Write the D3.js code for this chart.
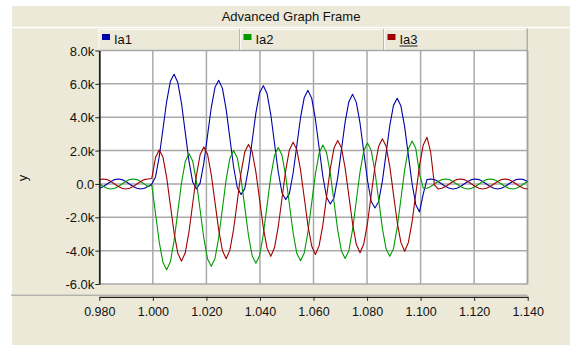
<!DOCTYPE html>
<html>
<head>
<meta charset="utf-8">
<script src="https://cdn.jsdelivr.net/npm/d3@7"></script>
<style>
  html, body { margin: 0; padding: 0; background: #ffffff; }
  svg { display: block; font-family: "Liberation Sans", Arial, sans-serif; }
</style>
</head>
<body>
<svg id="chart" width="570" height="345"></svg>
<script>
// ---- data (currents in kA, sampled 12 points per 60 Hz cycle) ----
const sampleStart = 0.9996 - 15 / 720;   // first sample time (s)
const sampleStep = 1 / 720;              // sample interval (s)

const seriesNames = ["Ia1", "Ia2", "Ia3"];
const seriesColors = ["#0000a8", "#009a00", "#a00000"];

const ia1 = [
  -0.30, -0.26, -0.15, 0.00, 0.15, 0.26, 0.30, 0.26, 0.15, 0.00, -0.15, -0.26, -0.30, -0.26, -0.15,
  0.00, 0.42, 1.63, 3.28, 4.94, 6.15, 6.57, 6.08, 4.82, 3.09, 1.37, 0.11,
  -0.30, 0.05, 1.26, 2.92, 4.58, 5.79, 6.21, 5.73, 4.47, 2.75, 1.03, -0.23,
  -0.64, -0.28, 0.93, 2.59, 4.26, 5.47, 5.89, 5.42, 4.16, 2.44, 0.73, -0.53,
  -0.94, -0.58, 0.64, 2.30, 3.97, 5.18, 5.61, 5.14, 3.88, 2.17, 0.46, -0.80,
  -1.20, -0.84, 0.38, 2.05, 3.72, 4.93, 5.37, 4.89, 3.64, 1.93, 0.22, -1.04,
  -1.44, -1.07, 0.15, 1.82, 3.49, 4.71, 5.14, 4.67, 3.42, 1.71, 0.01, -1.25,
  -1.68,
  -0.60, 0.26, 0.30, 0.26, 0.15, 0.00, -0.15, -0.26, -0.30, -0.26, -0.15, 0.00,
  0.15, 0.26, 0.30, 0.26, 0.15, 0.00, -0.15, -0.26, -0.30, -0.26, -0.15, 0.00,
  0.15, 0.26, 0.30, 0.26, 0.15, 0.00
];

const ia2 = [
  0.15, 0.00, -0.15, -0.26, -0.30, -0.26, -0.15, 0.00, 0.15, 0.26, 0.30, 0.26, 0.15, 0.00, -0.15,
  -0.08, -1.77, -3.47, -4.71, -5.15, -4.67, -3.40, -1.66, 0.07, 1.34, 1.82, 1.38,
  0.14, -1.56, -3.26, -4.50, -4.94, -4.47, -3.20, -1.47, 0.26, 1.53, 2.01, 1.56,
  0.32, -1.38, -3.08, -4.32, -4.76, -4.29, -3.02, -1.29, 0.44, 1.70, 2.18, 1.73,
  0.49, -1.22, -2.92, -4.16, -4.61, -4.14, -2.87, -1.14, 0.59, 1.85, 2.33, 1.88,
  0.63, -1.07, -2.77, -4.02, -4.47, -4.00, -2.73, -1.01, 0.72, 1.99, 2.46, 2.01,
  0.76, -0.94, -2.65, -3.89, -4.34, -3.88, -2.61, -0.89, 0.84, 2.10, 2.57, 2.12,
  0.60,
  -0.25, -0.26, -0.15, 0.00, 0.15, 0.26, 0.30, 0.26, 0.15, 0.00, -0.15, -0.26,
  -0.30, -0.26, -0.15, 0.00, 0.15, 0.26, 0.30, 0.26, 0.15, 0.00, -0.15, -0.26,
  -0.30, -0.26, -0.15, 0.00, 0.15, 0.26
];

const ia3 = [
  0.15, 0.26, 0.30, 0.26, 0.15, 0.00, -0.15, -0.26, -0.30, -0.26, -0.15, 0.00, 0.15, 0.26, 0.30,
  0.33, 1.58, 2.04, 1.61, 0.39, -1.27, -2.94, -4.15, -4.63, -4.13, -2.88, -1.19,
  0.51, 1.75, 2.22, 1.78, 0.56, -1.11, -2.77, -3.99, -4.49, -3.97, -2.72, -1.03,
  0.66, 1.91, 2.37, 1.93, 0.71, -0.96, -2.63, -3.85, -4.34, -3.83, -2.58, -0.89,
  0.80, 2.04, 2.50, 2.06, 0.84, -0.83, -2.50, -3.72, -4.23, -3.70, -2.47, -0.78,
  0.91, 2.15, 2.61, 2.17, 0.95, -0.72, -2.39, -3.62, -4.13, -3.60, -2.36, -0.67,
  1.02, 2.25, 2.71, 2.27, 1.05, -0.63, -2.30, -3.52, -4.04, -3.51, -2.27, -0.58,
  1.10, 2.34, 2.80,
  1.90, -0.05, -0.30, -0.26, -0.15, 0.00, 0.15, 0.26, 0.30, 0.26, 0.15, 0.00,
  -0.15, -0.26, -0.30, -0.26, -0.15, 0.00, 0.15, 0.26, 0.30, 0.26, 0.15, 0.00,
  -0.15, -0.26, -0.30, -0.26
];

const xTicks = [0.98, 1.00, 1.02, 1.04, 1.06, 1.08, 1.10, 1.12, 1.14];
const yTicks = [-6, -4, -2, 0, 2, 4, 6, 8];
const titleText = "Advanced Graph Frame";
const yTitle = "y";

// ---- layout ----
const W = 570, H = 345;
const plot = { left: 99.3, right: 527.7, top: 50.5, bottom: 284 };
const beige = "#ece9d8";
const gridColor = "#a9a9a9";

const svg = d3.select("#chart");

const x = d3.scaleLinear().domain([0.98, 1.14]).range([plot.left, plot.right]);
const y = d3.scaleLinear().domain([-6, 8]).range([plot.bottom, plot.top]);

// frame background
svg.append("rect").attr("width", W).attr("height", H).attr("fill", "#ffffff");
svg.append("rect").attr("x", 12).attr("y", 6).attr("width", W - 12).attr("height", H - 6).attr("fill", beige);

// title bar
svg.append("text")
  .attr("x", 291).attr("y", 21)
  .attr("text-anchor", "middle")
  .attr("font-size", 13).attr("fill", "#111")
  .text(titleText);
svg.append("line")
  .attr("x1", 12).attr("x2", W).attr("y1", 27.5).attr("y2", 27.5)
  .attr("stroke", "#ffffff").attr("stroke-width", 1.5);

// legend row
const legendEdges = [98.5, 240, 384, 527];
const legend = svg.append("g");
seriesNames.forEach((name, i) => {
  const x0 = legendEdges[i], x1 = legendEdges[i + 1];
  legend.append("rect").attr("x", x0).attr("y", 29).attr("width", x1 - x0).attr("height", 21).attr("fill", beige);
  legend.append("line").attr("x1", x0).attr("x2", x1).attr("y1", 29.5).attr("y2", 29.5).attr("stroke", "#fbfaf6");
  legend.append("line").attr("x1", x0 + 0.5).attr("x2", x0 + 0.5).attr("y1", 29).attr("y2", 50).attr("stroke", "#fbfaf6");
  if (i > 0) {
    legend.append("line").attr("x1", x0 - 0.5).attr("x2", x0 - 0.5).attr("y1", 29).attr("y2", 50).attr("stroke", "#bdb9a8");
  }
  legend.append("rect").attr("x", x0 + 3.5).attr("y", 34).attr("width", 8).attr("height", 6).attr("fill", seriesColors[i]);
  const t = legend.append("text")
    .attr("x", x0 + 15.5).attr("y", 44)
    .attr("font-size", 13).attr("fill", "#111")
    .text(name);
  if (i === seriesNames.length - 1) {
    const len = t.node().getComputedTextLength();
    legend.append("line")
      .attr("x1", x0 + 15.5).attr("x2", x0 + 15.5 + len)
      .attr("y1", 46).attr("y2", 46)
      .attr("stroke", "#222").attr("stroke-width", 1);
  }
});

// plot area
svg.append("rect")
  .attr("x", plot.left).attr("y", plot.top)
  .attr("width", plot.right - plot.left).attr("height", plot.bottom - plot.top)
  .attr("fill", "#ffffff");

// grid
const grid = svg.append("g").attr("stroke", gridColor).attr("stroke-width", 1.5);
grid.selectAll(".gx").data(xTicks.slice(1)).join("line")
  .attr("x1", d => x(d)).attr("x2", d => x(d))
  .attr("y1", plot.top).attr("y2", plot.bottom);
grid.selectAll(".gy").data(yTicks).join("line")
  .attr("x1", plot.left).attr("x2", plot.right)
  .attr("y1", d => y(d)).attr("y2", d => y(d));

// right border continues up through the legend row
svg.append("line")
  .attr("x1", 527.2).attr("x2", 527.2).attr("y1", 28.5).attr("y2", plot.bottom)
  .attr("stroke", "#a0a0a0").attr("stroke-width", 1.2);

// series
svg.append("clipPath").attr("id", "plotClip")
  .append("rect")
  .attr("x", plot.left).attr("y", plot.top)
  .attr("width", plot.right - plot.left).attr("height", plot.bottom - plot.top);

const times = d3.range(ia1.length).map(i => sampleStart + i * sampleStep);
const lineGen = d3.line().x((d, i) => x(times[i])).y(d => y(d));
const series = [ia1, ia2, ia3];
svg.append("g").attr("clip-path", "url(#plotClip)")
  .selectAll("path").data(series).join("path")
  .attr("d", d => lineGen(d))
  .attr("fill", "none")
  .attr("stroke", (d, i) => seriesColors[i])
  .attr("stroke-width", 1.1)
  .attr("stroke-linejoin", "round");

// y axis
const fmtY = v => v === 0 ? "0.0" : v.toFixed(1) + "k";
const yAxis = svg.append("g")
  .attr("transform", `translate(${plot.left},0)`)
  .call(d3.axisLeft(y).tickValues(yTicks).tickFormat(fmtY).tickSize(4).tickSizeOuter(0).tickPadding(1));
yAxis.select(".domain").attr("stroke", "#222").attr("stroke-width", 1.8);
yAxis.selectAll(".tick line").attr("stroke", "#222");
yAxis.selectAll(".tick text")
  .attr("font-size", 13).attr("font-family", "Liberation Sans, Arial, sans-serif")
  .attr("fill", "#111").attr("dy", "0.36em");

// x axis
svg.append("line")
  .attr("x1", 11).attr("x2", 527.5).attr("y1", 295.2).attr("y2", 295.2)
  .attr("stroke", "#9a9a9a").attr("stroke-width", 1);
const xAxis = svg.append("g")
  .attr("transform", "translate(0,296.8)")
  .call(d3.axisBottom(x).tickValues(xTicks).tickFormat(d => d.toFixed(3)).tickSize(4).tickSizeOuter(0).tickPadding(6));
xAxis.select(".domain").attr("stroke", "#222").attr("stroke-width", 1.3);
xAxis.selectAll(".tick line").attr("stroke", "#222");
xAxis.selectAll(".tick text")
  .attr("font-size", 12.5).attr("font-family", "Liberation Sans, Arial, sans-serif")
  .attr("fill", "#111");

// y title
svg.append("text")
  .attr("transform", "translate(26.5,178) rotate(-90)")
  .attr("text-anchor", "middle")
  .attr("font-size", 13).attr("fill", "#111")
  .text(yTitle);
</script>
</body>
</html>
